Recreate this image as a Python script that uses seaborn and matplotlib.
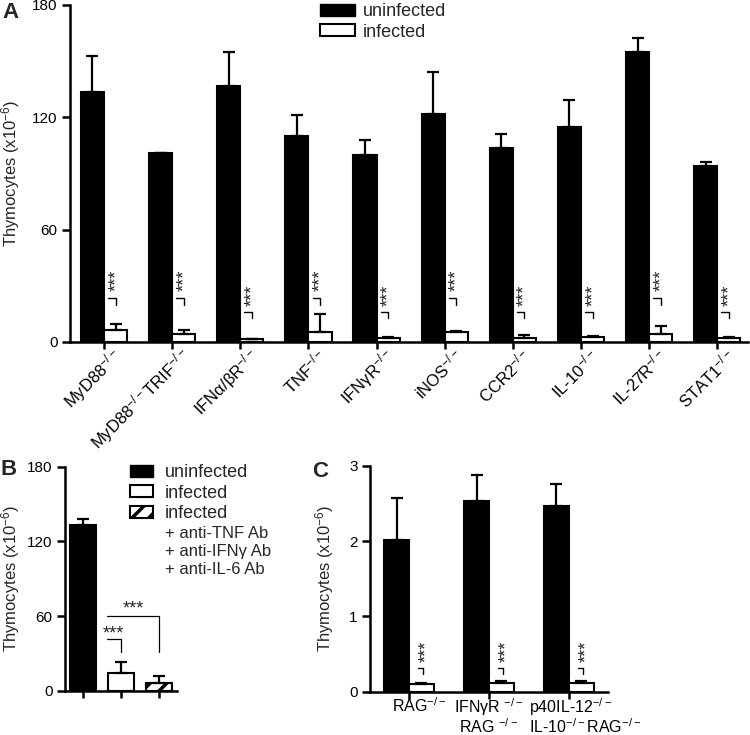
import numpy as np
import pandas as pd
import matplotlib
matplotlib.use('Agg')
import matplotlib.pyplot as plt
import matplotlib.transforms as mtransforms
from matplotlib.patches import Patch
import seaborn as sns

# panel A: knockout strains, uninfected vs infected
strains_a = ['MyD88$^{-/-}$', 'MyD88$^{-/-}$TRIF$^{-/-}$', 'IFNα/βR$^{-/-}$', 'TNF$^{-/-}$',
             'IFNγR$^{-/-}$', 'iNOS$^{-/-}$', 'CCR2$^{-/-}$', 'IL-10$^{-/-}$',
             'IL-27R$^{-/-}$', 'STAT1$^{-/-}$']
uninf_a = [133.5, 100.8, 136.7, 110.0, 99.7, 121.9, 103.8, 114.8, 154.9, 94.0]
uninf_a_err = [19.3, 0.3, 18.0, 11.0, 8.2, 22.3, 7.5, 14.5, 7.3, 2.0]
inf_a = [6.4, 4.3, 1.4, 5.5, 2.0, 5.5, 2.3, 2.5, 4.1, 2.1]
inf_a_err = [3.2, 2.1, 0.3, 9.5, 0.7, 0.5, 1.3, 0.7, 4.3, 0.7]

# panel B: antibody treatment
groups_b = ['uninfected', 'infected', 'infected + Ab']
vals_b = [133.0, 14.0, 6.4]
err_b = [4.7, 8.8, 5.4]

# panel C: RAG backgrounds
strains_c = ['RAG$^{-/-}$', 'IFNγR $^{-/-}$\nRAG $^{-/-}$', 'p40IL-12$^{-/-}$\nIL-10$^{-/-}$RAG$^{-/-}$']
uninf_c = [2.01, 2.53, 2.46]
uninf_c_err = [0.56, 0.34, 0.30]
inf_c = [0.10, 0.12, 0.12]
inf_c_err = [0.02, 0.02, 0.02]

status = ['uninfected', 'infected']
pal = {'uninfected': 'black', 'infected': 'white'}

sns.set_style('ticks')
plt.rcParams['font.family'] = ['Liberation Sans', 'DejaVu Sans']
plt.rcParams['mathtext.default'] = 'regular'
plt.rcParams['hatch.linewidth'] = 2.5
plt.rcParams['axes.linewidth'] = 1.8
plt.rcParams['axes.edgecolor'] = 'black'
plt.rcParams['xtick.color'] = 'black'
plt.rcParams['ytick.color'] = 'black'

fig = plt.figure(figsize=(7.5, 7.35), dpi=100)
ax_a = fig.add_axes([0.0933, 0.5347, 0.904, 0.4585])
ax_b = fig.add_axes([0.0867, 0.0603, 0.1493, 0.3048])
ax_c = fig.add_axes([0.4933, 0.0589, 0.3173, 0.3075])


def px_shift(dx, dy):
    return mtransforms.ScaledTranslation(dx / 100, dy / 100, fig.dpi_scale_trans)


def style_axis(ax, yticks, ylim, label_x):
    sns.despine(ax=ax)
    ax.set_ylim(*ylim)
    ax.set_yticks(yticks)
    ax.tick_params(axis='y', length=6, width=1.8, pad=3, labelsize=11)
    ax.tick_params(axis='x', length=5, width=1.8, labelsize=12)
    ax.set_xlabel('')
    ax.set_ylabel('Thymocytes (x10$^{-6}$)', fontsize=12)
    ax.yaxis.set_label_coords(label_x, 0.5)
    ax.yaxis.label.set_va('center')


def add_errors(ax, containers, errs):
    for cont, e in zip(containers, errs):
        xs = [p.get_x() + p.get_width() / 2 for p in cont]
        ys = [p.get_height() for p in cont]
        ax.errorbar(xs, ys, yerr=[np.zeros(len(e)), e], fmt='none', ecolor='black',
                    elinewidth=1.6, capsize=4, capthick=1.6)


# ---- A
df_a = pd.DataFrame({'strain': strains_a * 2,
                     'status': ['uninfected'] * 10 + ['infected'] * 10,
                     'cells': uninf_a + inf_a})
sns.barplot(data=df_a, x='strain', y='cells', hue='status', order=strains_a, hue_order=status,
            palette=pal, width=0.68, gap=0, saturation=1, edgecolor='black', linewidth=1.5,
            errorbar=None, legend=False, ax=ax_a)
add_errors(ax_a, ax_a.containers, [uninf_a_err, inf_a_err])
style_axis(ax_a, [0, 60, 120, 180], (0, 180), -0.088)
ax_a.set_xlim(-0.5, 9.45)
for lab in ax_a.get_xticklabels():
    lab.set_rotation(45)
    lab.set_ha('right')
    lab.set_va('center')
    lab.set_rotation_mode('anchor')
    lab.set_transform(lab.get_transform() + px_shift(15, 1))

high = [0, 1, 3, 5, 8]
for i, p in enumerate(ax_a.containers[1]):
    x0 = p.get_x()
    if i in high:
        ys, yt, yb = 33, 23.5, 19.8
    else:
        ys, yt, yb = 25, 16.0, 12.8
    ax_a.plot([x0 + 0.06, x0 + 0.17, x0 + 0.17], [yt, yt, yb], color='black', lw=1.0)
    ax_a.text(x0 + 0.18, ys, '***', rotation=90, ha='center', va='center', fontsize=13)

ax_a.legend(handles=[Patch(fc='black', ec='black', label='uninfected'),
                     Patch(fc='white', ec='black', lw=1.5, label='infected')],
            loc='upper left', bbox_to_anchor=(320 / 750, 1 - 3 / 735),
            bbox_transform=fig.transFigure, frameon=False, fontsize=13,
            handlelength=1.95, handleheight=0.67, handletextpad=0.4,
            labelspacing=0.2, borderpad=0, borderaxespad=0)

# ---- B
df_b = pd.DataFrame({'group': groups_b, 'cells': vals_b})
sns.barplot(data=df_b, x='group', y='cells', hue='group', order=groups_b,
            palette=['black', 'white', 'white'], width=0.69, saturation=1,
            edgecolor='black', linewidth=1.5, errorbar=None, legend=False, ax=ax_b)
bars_b = sorted(ax_b.patches, key=lambda p: p.get_x())
bars_b[2].set_hatch('//')
ax_b.errorbar([p.get_x() + p.get_width() / 2 for p in bars_b], [p.get_height() for p in bars_b],
              yerr=[np.zeros(3), err_b], fmt='none', ecolor='black',
              elinewidth=1.6, capsize=4, capthick=1.6)
style_axis(ax_b, [0, 60, 120, 180], (0, 180), -0.49)
ax_b.set_xlim(-0.48, 2.48)
ax_b.set_xticks([0, 1, 2])
ax_b.set_xticklabels([])

ax_b.plot([0.64, 1.0, 1.0], [41.5, 41.5, 31], color='black', lw=0.9)
ax_b.plot([0.64, 2.0, 2.0], [60, 60, 31], color='black', lw=0.9)
ax_b.text(0.8, 45.5, '***', ha='center', va='center', fontsize=13)
ax_b.text(1.32, 65.5, '***', ha='center', va='center', fontsize=13)

ax_b.legend(handles=[Patch(fc='black', ec='black', label='uninfected'),
                     Patch(fc='white', ec='black', lw=1.5, label='infected'),
                     Patch(fc='white', ec='black', lw=1.5, hatch='//', label='infected')],
            loc='upper left', bbox_to_anchor=(130 / 750, 1 - 464 / 735),
            bbox_transform=fig.transFigure, frameon=False, fontsize=13,
            handlelength=1.28, handleheight=0.65, handletextpad=0.67,
            labelspacing=0.2, borderpad=0, borderaxespad=0)
for k, line in enumerate(['+ anti-TNF Ab', '+ anti-IFNγ Ab', '+ anti-IL-6 Ab']):
    fig.text(165 / 750, 1 - (533 + 18.5 * k) / 735, line, va='center', fontsize=12)

# ---- C
df_c = pd.DataFrame({'strain': strains_c * 2,
                     'status': ['uninfected'] * 3 + ['infected'] * 3,
                     'cells': uninf_c + inf_c})
sns.barplot(data=df_c, x='strain', y='cells', hue='status', order=strains_c, hue_order=status,
            palette=pal, width=0.62, gap=0, saturation=1, edgecolor='black', linewidth=1.5,
            errorbar=None, legend=False, ax=ax_c)
add_errors(ax_c, ax_c.containers, [uninf_c_err, inf_c_err])
style_axis(ax_c, [0, 1, 2, 3], (0, 3), -0.189)
ax_c.set_xlim(-0.49, 2.49)
ax_c.tick_params(axis='x', pad=0, labelsize=11.5)
labs_c = ax_c.get_xticklabels()
for lab, dx in zip(labs_c, [10, 0, 16]):
    lab.set_linespacing(0.95)
    lab.set_transform(lab.get_transform() + px_shift(dx, 2))
labs_c[2].set_multialignment('left')
for p in ax_c.containers[1]:
    x0 = p.get_x()
    ax_c.plot([x0 + 0.11, x0 + 0.175, x0 + 0.175], [0.31, 0.31, 0.24], color='black', lw=1.0)
    ax_c.text(x0 + 0.22, 0.53, '***', rotation=90, ha='center', va='center', fontsize=13)

# panel letters
fig.text(2 / 750, 1 - 2 / 735, 'A', fontsize=16, fontweight='bold', va='top')
fig.text(0 / 750, 1 - 459 / 735, 'B', fontsize=16, fontweight='bold', va='top')
fig.text(312 / 750, 1 - 461 / 735, 'C', fontsize=16, fontweight='bold', va='top')

fig.savefig('out.png', dpi=100)
